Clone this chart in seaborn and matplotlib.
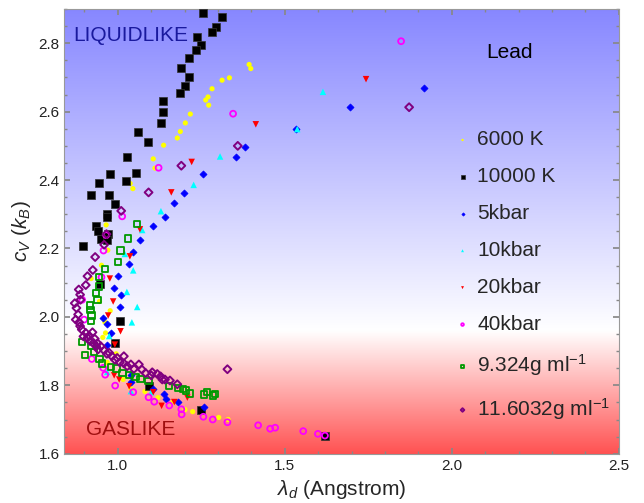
import numpy as np
import pandas as pd
import matplotlib
matplotlib.use("Agg")
import matplotlib.pyplot as plt
from matplotlib.ticker import MultipleLocator
import seaborn as sns

# ---------------- data ----------------
x_6000K = [1.393, 1.398, 1.334, 1.312, 1.282, 1.270, 1.263, 1.272, 1.217, 1.202, 1.187, 1.178,
           1.137, 1.106, 1.111, 1.037, 1.045, 0.965, 0.970, 0.951, 0.920, 0.945, 0.977, 0.961,
           0.963, 0.955, 0.995, 0.968, 1.016, 1.039, 1.081, 1.120, 1.165, 1.201, 1.224, 1.302, 1.330]
y_6000K = [2.738, 2.726, 2.699, 2.692, 2.667, 2.643, 2.634, 2.619, 2.593, 2.567, 2.542, 2.523,
           2.502, 2.462, 2.435, 2.390, 2.375, 2.269, 2.195, 2.151, 2.112, 2.045, 2.018, 1.985,
           1.953, 1.940, 1.892, 1.867, 1.817, 1.790, 1.782, 1.764, 1.751, 1.729, 1.723, 1.706, 1.700]

x_10000K = [1.256, 1.311, 1.295, 1.281, 1.238, 1.249, 1.233, 1.213, 1.188, 1.212, 1.202, 1.186,
            1.134, 1.135, 1.129, 1.060, 1.091, 1.028, 1.055, 0.977, 1.024, 0.944, 0.973, 0.920,
            0.991, 0.968, 0.968, 0.936, 0.940, 0.972, 0.950, 0.968, 0.895, 0.947, 1.006, 0.992,
            1.094, 1.248, 1.620]
y_10000K = [2.888, 2.876, 2.847, 2.834, 2.818, 2.795, 2.780, 2.758, 2.727, 2.702, 2.675, 2.656,
            2.631, 2.599, 2.567, 2.542, 2.511, 2.468, 2.422, 2.418, 2.398, 2.391, 2.355, 2.355,
            2.330, 2.301, 2.291, 2.267, 2.251, 2.243, 2.228, 2.224, 2.208, 2.097, 1.987, 1.924,
            1.799, 1.729, 1.653]

x_5kbar = [1.917, 1.695, 1.533, 1.381, 1.353, 1.254, 1.199, 1.167, 1.142, 1.105, 1.066, 1.045,
           1.033, 1.000, 0.989, 1.009, 1.006, 0.955, 0.967, 0.980, 0.967, 1.039, 1.040, 1.105,
           1.139, 1.144, 1.179, 1.258]
y_5kbar = [2.669, 2.615, 2.549, 2.498, 2.468, 2.418, 2.361, 2.333, 2.291, 2.265, 2.224, 2.189,
           2.155, 2.120, 2.085, 2.063, 2.029, 1.997, 1.980, 1.954, 1.919, 1.829, 1.810, 1.790,
           1.774, 1.761, 1.750, 1.738]

x_10kbar = [1.614, 1.537, 1.306, 1.227, 1.129, 1.073, 1.021, 1.046, 1.027, 1.058, 1.042, 0.974,
            0.968, 1.039, 1.100]
y_10kbar = [2.658, 2.549, 2.469, 2.386, 2.309, 2.254, 2.184, 2.136, 2.073, 2.029, 1.984, 1.944,
            1.839, 1.783, 1.780]

x_20kbar = [1.743, 1.413, 1.221, 1.160, 1.066, 1.036, 0.976, 0.986, 0.971, 1.008, 0.991, 0.989,
            1.004, 1.034, 1.106, 1.131, 1.169, 1.208]
y_20kbar = [2.695, 2.563, 2.453, 2.364, 2.256, 2.177, 2.112, 2.045, 2.004, 1.958, 1.919, 1.829,
            1.817, 1.797, 1.780, 1.740, 1.751, 1.764]

x_40kbar = [1.848, 1.345, 1.122, 1.013, 0.965, 0.957, 0.951, 0.893, 0.899, 0.922, 0.956, 0.962,
            0.992, 1.046, 1.092, 1.109, 1.154, 1.190, 1.191, 1.256, 1.284, 1.328, 1.420, 1.456,
            1.471, 1.555, 1.599, 1.620]
y_40kbar = [2.806, 2.594, 2.436, 2.294, 2.239, 2.194, 2.116, 2.050, 1.992, 1.877, 1.851, 1.831,
            1.799, 1.780, 1.765, 1.752, 1.741, 1.730, 1.715, 1.708, 1.700, 1.692, 1.683, 1.673,
            1.676, 1.666, 1.658, 1.653]

x_rho9 = [1.057, 1.030, 1.008, 1.000, 0.961, 0.943, 0.944, 0.934, 0.939, 0.917, 0.918, 0.921,
          0.919, 0.892, 0.901, 0.928, 0.921, 0.945, 0.953, 0.980, 0.996, 1.014, 1.035, 1.053,
          1.068, 1.092, 1.153, 1.179, 1.196, 1.205, 1.216, 1.258, 1.266, 1.286, 1.292]
y_rho9 = [2.272, 2.229, 2.194, 2.161, 2.139, 2.117, 2.089, 2.069, 2.049, 2.033, 2.021, 2.004,
          1.989, 1.926, 1.888, 1.897, 1.914, 1.877, 1.864, 1.853, 1.849, 1.837, 1.830, 1.824,
          1.818, 1.813, 1.798, 1.791, 1.790, 1.785, 1.776, 1.773, 1.780, 1.770, 1.775]

x_rho11 = [1.872, 1.359, 1.190, 1.092, 1.010, 0.966, 0.959, 0.932, 0.925, 0.909, 0.904, 0.883,
           0.887, 0.888, 0.871, 0.876, 0.881, 0.874, 0.884, 0.887, 0.892, 0.904, 0.897, 0.914,
           0.924, 0.909, 0.917, 0.931, 0.927, 0.939, 0.935, 0.949, 0.941, 0.959, 0.967, 0.974,
           0.982, 0.991, 0.998, 1.006, 1.018, 1.018, 1.028, 1.039, 1.048, 1.063, 1.072, 1.083,
           1.100, 1.103, 1.118, 1.128, 1.133, 1.141, 1.156, 1.178, 1.328]
y_rho11 = [2.613, 2.500, 2.442, 2.364, 2.310, 2.242, 2.211, 2.175, 2.137, 2.119, 2.093, 2.080,
           2.065, 2.050, 2.040, 2.026, 2.007, 1.992, 1.984, 1.973, 1.963, 1.953, 1.943, 1.945,
           1.955, 1.939, 1.929, 1.936, 1.924, 1.923, 1.914, 1.914, 1.905, 1.902, 1.892, 1.895,
           1.885, 1.875, 1.880, 1.867, 1.885, 1.864, 1.856, 1.861, 1.848, 1.861, 1.846, 1.836,
           1.829, 1.838, 1.833, 1.826, 1.817, 1.817, 1.814, 1.803, 1.847]

series_labels = ["6000 K", "10000 K", "5kbar", "10kbar", "20kbar", "40kbar",
                 "9.324g ml$^{-1}$", "11.6032g ml$^{-1}$"]
x_ticks = [1.0, 1.5, 2.0, 2.5]
y_ticks = [1.6, 1.8, 2.0, 2.2, 2.4, 2.6, 2.8]

# ---------------- style ----------------
sns.set_theme(style="ticks")
plt.rcParams['font.family'] = ['Liberation Sans', 'DejaVu Sans']
plt.rcParams['mathtext.fontset'] = 'custom'
plt.rcParams['mathtext.rm'] = 'Liberation Sans'
plt.rcParams['mathtext.it'] = 'Liberation Sans:italic'
plt.rcParams['mathtext.bf'] = 'Liberation Sans:bold'

fig = plt.figure(figsize=(6.44, 5.03), dpi=100)
ax = fig.add_axes([0.1, 0.098, 0.861, 0.884])

XMIN, XMAX, YMIN, YMAX = 0.84, 2.5, 1.6, 2.9

# background gradient: blue (top) -> white (~1.96) -> red (bottom)
n = 600
yy = np.linspace(YMAX, YMIN, n)
img = np.ones((n, 1, 3))
yw = 1.96
top = np.array([0.53, 0.53, 1.0])
bot = np.array([1.0, 0.32, 0.32])
for i, yv in enumerate(yy):
    if yv >= yw:
        t = (yv - yw) / (YMAX - yw)
        img[i, 0] = 1 - t * (1 - top)
    else:
        t = (yw - yv) / (yw - YMIN)
        img[i, 0] = 1 - t * (1 - bot)
ax.imshow(img, extent=[0, 1, 0, 1], transform=ax.transAxes, aspect='auto', zorder=0,
          interpolation='bilinear')

specs = [
    (x_6000K, y_6000K, dict(marker='o', s=14, color='#ffff00', edgecolor='none')),
    (x_10000K, y_10000K, dict(marker='s', s=26, color='black', edgecolor='#333333', linewidth=0.5)),
    (x_5kbar, y_5kbar, dict(marker='D', s=13, color='#0000ff', edgecolor='#0000ff', linewidth=0.5)),
    (x_10kbar, y_10kbar, dict(marker='^', s=22, color='#00ffff', edgecolor='none')),
    (x_20kbar, y_20kbar, dict(marker='v', s=22, color='#ff0000', edgecolor='none')),
    (x_40kbar, y_40kbar, dict(marker='o', s=18, facecolor='none', edgecolor='#ff00ff', linewidth=1.3)),
    (x_rho9, y_rho9, dict(marker='s', s=20, facecolor='none', edgecolor='#009900', linewidth=1.3)),
    (x_rho11, y_rho11, dict(marker='D', s=16, facecolor='none', edgecolor='#800080', linewidth=1.4)),
]
for (xs, ys, kw), lab in zip(specs, series_labels):
    d = pd.DataFrame({"x": xs, "y": ys})
    sns.scatterplot(data=d, x="x", y="y", ax=ax, label=lab, zorder=3, **kw)

ax.set_xlim(XMIN, XMAX)
ax.set_ylim(YMIN, YMAX)
ax.set_xticks(x_ticks)
ax.set_xticklabels([f"{v:.1f}" for v in x_ticks])
ax.set_yticks(y_ticks)
ax.set_yticklabels([f"{v:.1f}" for v in y_ticks])
ax.xaxis.set_minor_locator(MultipleLocator(0.1))
ax.yaxis.set_minor_locator(MultipleLocator(0.05))
ax.tick_params(which='both', direction='in', top=True, right=True, colors='#888888',
               labelcolor='#222222', labelsize=11)
ax.tick_params(which='major', length=4)
ax.tick_params(which='minor', length=2.5)
for sp in ax.spines.values():
    sp.set_color('#999999')
    sp.set_linewidth(0.8)

ax.set_xlabel(r"$\lambda_d$ (Angstrom)", fontsize=15, labelpad=4)
ax.set_ylabel(r"$c_V$ $(k_B)$", fontsize=15, labelpad=4)

ax.text(0.865, 2.824, "LIQUIDLIKE", fontsize=15, color='#1a1a9e', va='center', ha='left', zorder=4)
ax.text(0.905, 1.671, "GASLIKE", fontsize=15, color='#a01010', va='center', ha='left', zorder=4)
ax.text(2.102, 2.772, "Lead", fontsize=15, color='black', va='center', ha='left', zorder=4)

leg = ax.legend(loc='upper left', bbox_to_anchor=(0.703, 0.727), frameon=False, fontsize=15,
                markerscale=0.45, handlelength=0.8, handletextpad=0.3, labelspacing=0.86,
                borderpad=0, borderaxespad=0)

fig.savefig("out.png", dpi=100)
